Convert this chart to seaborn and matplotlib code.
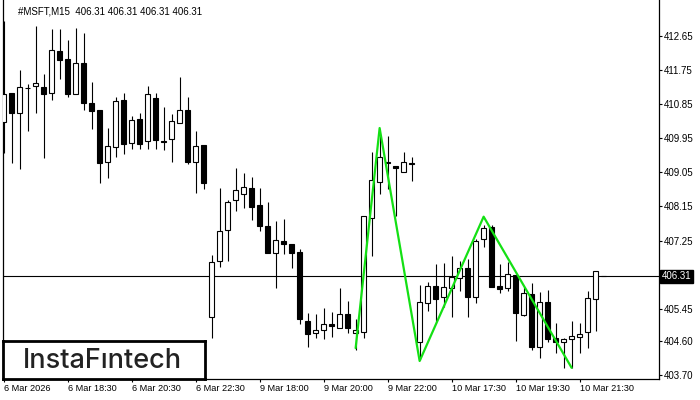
import numpy as np
import seaborn as sns
import matplotlib.pyplot as plt
import matplotlib.transforms as mtransforms

sns.set_style("white")
plt.rcParams['font.family'] = ['Liberation Sans', 'DejaVu Sans']

# M15 candles, #MSFT
opens = [410.38, 411.14, 410.62, 411.28, 411.33, 411.30, 411.14, 412.25, 412.04, 411.12,
         411.94, 410.88, 410.70, 409.32, 409.72, 410.96, 409.83, 410.46, 409.88, 411.01,
         409.88, 409.93, 410.35, 410.70, 409.32, 409.77, 405.23, 406.71, 407.53, 408.32,
         408.48, 408.64, 408.19, 407.63, 406.92, 407.24, 407.16, 406.95, 405.13, 404.81,
         404.89, 405.05, 404.94, 405.31, 404.81, 404.84, 407.85, 408.80, 409.32, 409.22,
         409.06, 409.30, 404.57, 405.60, 406.05, 405.76, 406.00, 406.26, 406.52, 405.76,
         407.29, 407.61, 406.05, 406.00, 406.34, 405.28, 405.84, 404.44, 405.63, 404.68,
         404.57, 404.65, 404.70, 404.84, 405.71, 406.31]
highs = [413.05, 411.14, 411.75, 411.38, 412.91, 411.65, 412.83, 412.83, 412.54, 412.86,
         412.73, 411.44, 410.70, 410.22, 411.04, 411.14, 410.54, 410.62, 411.33, 411.14,
         410.78, 410.59, 411.57, 411.04, 410.14, 409.77, 406.87, 408.64, 408.32, 409.16,
         409.03, 408.93, 408.64, 408.27, 407.77, 407.82, 407.16, 407.03, 405.34, 405.31,
         405.47, 405.36, 406.00, 405.65, 405.18, 407.90, 409.59, 410.01, 410.01, 409.22,
         409.59, 409.46, 406.08, 406.16, 406.63, 406.66, 406.84, 406.71, 406.76, 407.29,
         407.66, 407.66, 406.63, 406.68, 406.34, 406.02, 406.13, 405.89, 405.94, 405.07,
         404.68, 405.13, 405.07, 405.92, 406.45, 406.31]
lows = [409.56, 409.30, 409.14, 410.14, 410.62, 409.43, 410.96, 411.51, 411.04, 411.12,
        410.70, 410.19, 408.77, 408.90, 409.46, 409.53, 409.67, 409.67, 409.67, 409.67,
        409.64, 409.32, 410.35, 409.27, 408.50, 408.61, 404.68, 406.55, 406.71, 408.03,
        408.11, 407.79, 407.50, 406.92, 406.00, 406.89, 406.52, 405.05, 404.44, 404.68,
        404.65, 404.70, 404.94, 404.81, 404.36, 404.68, 406.84, 408.48, 408.61, 407.90,
        409.06, 408.82, 404.10, 405.39, 405.07, 405.50, 405.23, 405.92, 405.23, 405.60,
        407.08, 406.02, 405.86, 405.92, 404.60, 405.26, 404.36, 404.15, 404.57, 404.28,
        403.89, 403.89, 404.28, 404.41, 404.86, 406.31]
closes = [411.12, 410.62, 411.30, 411.27, 411.41, 411.12, 412.28, 412.02, 411.12, 411.94,
          410.88, 410.67, 409.30, 409.75, 410.93, 409.80, 410.43, 409.80, 411.12, 409.90,
          409.86, 410.41, 410.70, 409.32, 409.75, 408.77, 406.68, 407.50, 408.27, 408.58,
          408.66, 408.14, 407.63, 406.92, 407.26, 407.16, 406.92, 405.18, 404.78, 404.89,
          405.05, 404.99, 405.31, 404.94, 404.89, 407.90, 408.85, 409.46, 409.30, 409.16,
          409.32, 409.27, 405.63, 406.05, 405.71, 406.02, 406.29, 406.52, 405.76, 407.24,
          407.58, 406.02, 405.97, 406.37, 405.34, 405.86, 404.44, 405.63, 404.65, 404.57,
          404.65, 404.73, 404.78, 405.73, 406.45, 406.31]

time_labels = ["6 Mar 2026", "6 Mar 18:30", "6 Mar 20:30", "6 Mar 22:30", "9 Mar 18:00",
               "9 Mar 20:00", "9 Mar 22:00", "10 Mar 17:30", "10 Mar 19:30", "10 Mar 21:30"]
label_bars = [0, 8, 16, 24, 32, 40, 48, 56, 64, 72]
price_ticks = [412.65, 411.75, 410.85, 409.95, 409.05, 408.15, 407.25, 405.45, 404.60, 403.70]
last_price = 406.31

# pattern zigzag
pattern_bars = [44, 47, 52, 60, 71]
pattern_prices = [404.41, 410.22, 404.07, 407.88, 403.89]

o = np.array(opens); c = np.array(closes)
x = np.arange(len(opens))
body_bottom = np.minimum(o, c)
body_height = np.abs(c - o)
body_colors = ['white' if cc > oo else 'black' for oo, cc in zip(o, c)]

fig = plt.figure(figsize=(7, 4), dpi=100)
ax = fig.add_axes([3/700, 21/400, 656/700, 379/400])

ax.axhline(last_price, color='black', lw=0.8, zorder=1)
ax.vlines(x, lows, highs, color='black', lw=0.8, zorder=2)
ax.bar(x, body_height, bottom=body_bottom, width=0.62, color=body_colors,
       edgecolor='black', linewidth=0.8, zorder=3)

sns.lineplot(x=pattern_bars, y=pattern_prices, color='#14e014', lw=1.6,
             sort=False, estimator=None, ax=ax, zorder=4)

ax.set_xlim(-0.08, 81.92)
ax.set_ylim(403.595, 413.60)

ax.yaxis.tick_right()
ax.set_yticks(price_ticks)
ax.set_yticklabels([f"{p:.2f}" for p in price_ticks])
ax.set_xticks(label_bars)
ax.set_xticklabels(time_labels, ha='left')
ax.tick_params(axis='y', which='both', direction='out', length=2, width=0.8, pad=1.5,
               labelsize=7, colors='black', right=True, left=False)
ax.tick_params(axis='x', which='both', direction='out', length=2.2, width=0.8, pad=1.5,
               labelsize=6.6, colors='black', bottom=True)
for side in ['left', 'right', 'bottom']:
    ax.spines[side].set_color('black')
    ax.spines[side].set_linewidth(0.9)
ax.spines['top'].set_visible(False)

# current price label
trans = mtransforms.blended_transform_factory(ax.transAxes, ax.transData)
ax.text(1.004, last_price, f"{last_price:.2f}", transform=trans, ha='left', va='center',
        fontsize=7, color='white', clip_on=False,
        bbox=dict(boxstyle='square,pad=0.15', facecolor='black', edgecolor='black'))

fig.text(18/700, 1 - 11/400, "#MSFT,M15  406.31 406.31 406.31 406.31",
         fontsize=7, va='center', ha='left', color='black')

# watermark box
wax = fig.add_axes([3/700, 21/400, 202/700, 38/400])
wax.set_facecolor('white')
wax.set_xticks([]); wax.set_yticks([])
for sp in wax.spines.values():
    sp.set_linewidth(2)
    sp.set_color('black')
wax.text(0.49, 0.47, "InstaF\u0131ntech", ha='center', va='center', fontsize=19.5,
         family=['Inter', 'DejaVu Sans'], fontweight='medium', color='#222222',
         transform=wax.transAxes)

plt.savefig("out.png", dpi=100)
